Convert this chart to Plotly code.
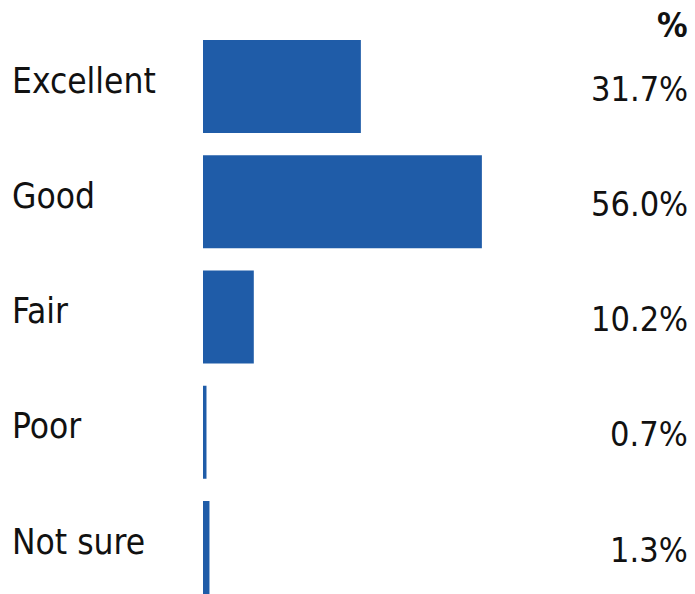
import plotly.graph_objects as go

categories = ["Excellent", "Good", "Fair", "Poor", "Not sure"]
values = [31.7, 56.0, 10.2, 0.7, 1.3]
value_labels = ["31.7%", "56.0%", "10.2%", "0.7%", "1.3%"]
header = "%"

W, H = 695, 594
ML = 203
plot_w = W - ML
px_per_pct = 4.98
FONT = "DejaVu Sans Condensed, sans-serif"

fig = go.Figure()
fig.add_trace(go.Bar(
    y=categories, x=values, orientation="h",
    marker=dict(color="#1f5ca8", line=dict(width=0)),
    width=0.807, hoverinfo="skip",
))

annotations = []
for cat, lab in zip(categories, value_labels):
    annotations.append(dict(
        x=(10 - ML) / plot_w, xref="paper", y=cat, yref="y",
        text=cat, showarrow=False, xanchor="left", yanchor="middle",
        yshift=6, font=dict(family=FONT, size=35, color="#111111"),
    ))
    annotations.append(dict(
        x=(690 - ML) / plot_w, xref="paper", y=cat, yref="y",
        text=lab, showarrow=False, xanchor="right", yanchor="middle",
        yshift=-2, font=dict(family=FONT, size=34, color="#111111"),
    ))
annotations.append(dict(
    x=(690 - ML) / plot_w, xref="paper", y=1, yref="paper",
    text="<b>" + header + "</b>", showarrow=False, xanchor="right", yanchor="middle",
    yshift=-25, font=dict(family=FONT, size=34, color="#111111"),
))

fig.update_layout(
    width=W, height=H,
    margin=dict(l=ML, r=0, t=0, b=0),
    paper_bgcolor="white", plot_bgcolor="white",
    showlegend=False,
    xaxis=dict(range=[0, plot_w / px_per_pct], visible=False, fixedrange=True),
    yaxis=dict(type="category", categoryorder="array", categoryarray=categories,
               range=[4.4035, -0.7505], visible=False, fixedrange=True),
    annotations=annotations,
)

fig.write_html("out.html", config={"displayModeBar": False},
               post_script="document.body.style.margin='0';document.body.style.overflow='hidden';")
